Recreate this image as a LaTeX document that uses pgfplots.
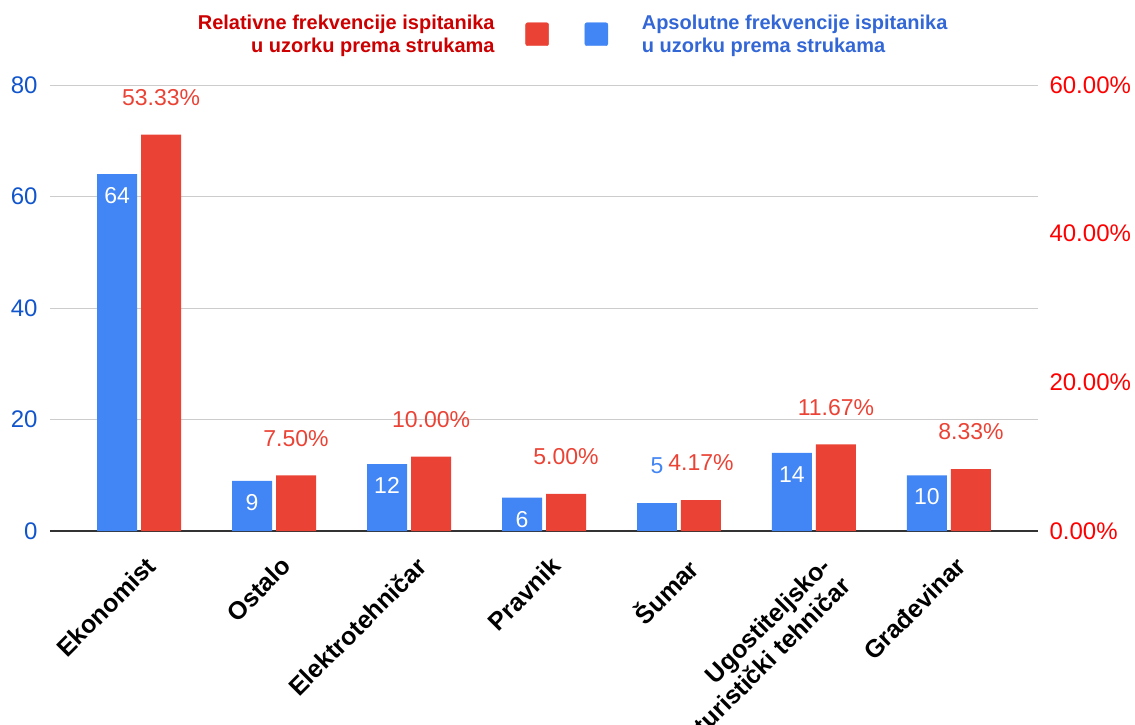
\documentclass[border=0pt]{standalone}
\usepackage{pgfplots}
\pgfplotsset{compat=1.18}
\usepackage{fontspec}
\setmainfont{Liberation Sans}
\definecolor{barblue}{HTML}{4285F4}
\definecolor{barred}{HTML}{EA4335}
\definecolor{tickblue}{HTML}{1155CC}
\definecolor{tickred}{HTML}{FF0000}
\definecolor{legred}{HTML}{CC0000}
\definecolor{legblue}{HTML}{3367D6}
\definecolor{gridc}{HTML}{CCCCCC}
\pgfplotsset{
  base/.style={
    at={(50pt,193pt)}, anchor=south west,
    scale only axis, width=988pt, height=446pt,
    xmin=-0.66, xmax=6.66, xtick={0,...,6},
    ymin=0,
    axis line style={draw=none},
    tick style={draw=none},
    ybar, bar width=40pt,
    /pgf/number format/assume math mode=true,
    clip=false,
  }
}
\begin{document}
\begin{tikzpicture}
\useasboundingbox (0,0) rectangle (1135pt,724pt);
\begin{axis}[base, ymax=80, ytick={0,20,40,60,80},
  ymajorgrids, grid style={gridc, line width=1pt},
  extra y ticks={0}, extra y tick labels={},
  extra y tick style={grid style={draw=black!80, line width=1.5pt}},
  yticklabel style={text=tickblue, font=\fontsize{24}{28}\selectfont, xshift=-9pt},
  xticklabels={Ekonomist, Ostalo, Elektrotehničar, Pravnik, Šumar, {Ugostiteljsko-\\turistički tehničar}, Građevinar},
  xticklabel style={rotate=45, anchor=north east, align=right, font=\bfseries\fontsize{25}{28}\selectfont, xshift=-10pt, yshift=-18pt, inner sep=0pt},
]
\addplot[fill=barblue, draw=none, bar shift=-22pt,
  nodes near coords,
  nodes near coords style={text=white, anchor=north, yshift=-10pt, font=\fontsize{23}{27}\selectfont}]
  coordinates {(0,64) (1,9) (2,12) (3,6) (5,14) (6,10)};
\addplot[fill=barblue, draw=none, bar shift=-22pt,
  nodes near coords,
  nodes near coords style={text=barblue, anchor=center, yshift=37pt, font=\fontsize{23}{27}\selectfont}]
  coordinates {(4,5)};
\end{axis}
\begin{axis}[base, ymax=60, ytick={0,20,40,60}, xtick=\empty,
  yticklabel pos=right,
  yticklabel={\pgfmathprintnumber[fixed,fixed zerofill,precision=2]{\tick}\%},
  yticklabel style={text=tickred, font=\fontsize{24}{28}\selectfont, xshift=8pt},
  legend style={at={(0.529,1.1625)}, anchor=north, draw=none, fill=none,
    legend columns=3, font=\bfseries\fontsize{20}{23}\selectfont,
    /tikz/every odd column/.append style={column sep=0pt},
    /tikz/every even column/.append style={column sep=0pt},
    nodes={inner sep=0pt}},
]
\addplot[fill=barred, draw=none, bar shift=22pt, forget plot,
  nodes near coords={\pgfmathprintnumber[fixed,fixed zerofill,precision=2]{\pgfplotspointmeta}\%},
  nodes near coords style={text=barred, anchor=center, yshift=37pt, font=\fontsize{23}{27}\selectfont}]
  coordinates {(0,53.33) (1,7.5) (2,10) (3,5) (4,4.17) (5,11.67) (6,8.33)};
\addlegendimage{empty legend}
\addlegendentry[text=legred, align=right]{Relativne frekvencije ispitanika\\u uzorku prema strukama}
\addlegendimage{legend image code/.code={\path[draw=none,fill=none] (0pt,0pt) rectangle (31pt,0.1pt); \fill[barred, rounded corners=2pt] (31pt,-11.5pt) rectangle (54pt,11.5pt);}}
\addlegendentry{}
\addlegendimage{legend image code/.code={\path[draw=none,fill=none] (0pt,0pt) rectangle (35pt,0.1pt); \fill[barblue, rounded corners=2pt] (35pt,-11.5pt) rectangle (58pt,11.5pt); \path[draw=none,fill=none] (58pt,0pt) rectangle (92pt,0.1pt);}}
\addlegendentry[text=legblue, align=left]{Apsolutne frekvencije ispitanika\\u uzorku prema strukama}
\end{axis}
\end{tikzpicture}
\end{document}
